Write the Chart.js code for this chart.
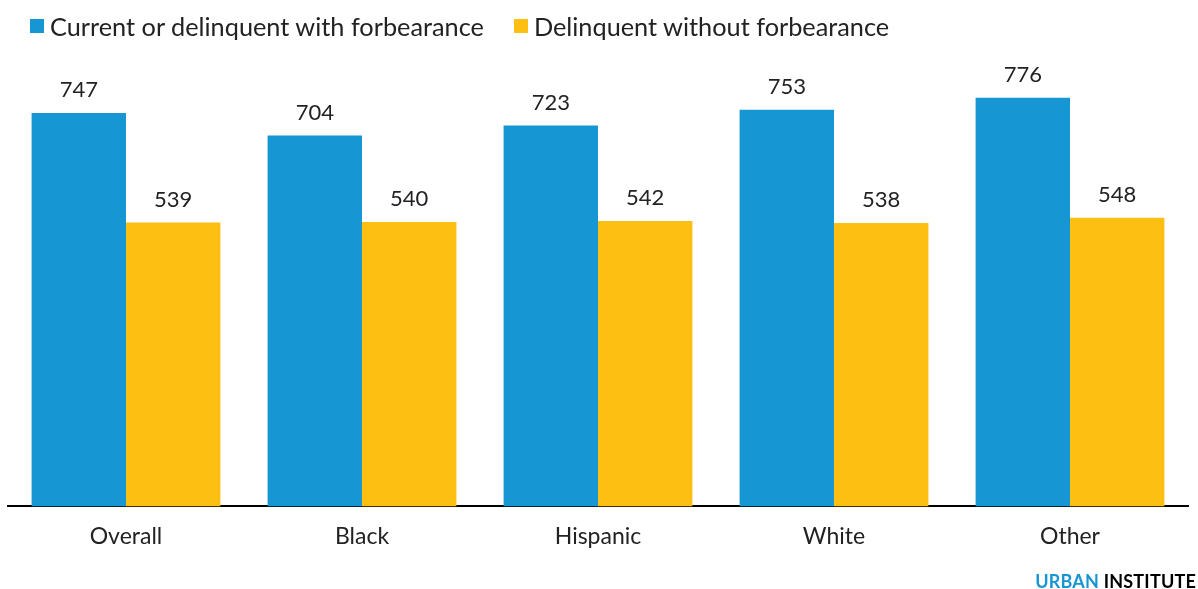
<!DOCTYPE html>
<html>
<head>
<meta charset="utf-8">
<script src="https://cdn.jsdelivr.net/npm/chart.js@4/dist/chart.umd.min.js"></script>
<style>
  html, body { margin: 0; padding: 0; background: #fff; }
  body { width: 1198px; height: 589px; position: relative; overflow: hidden; font-family: Lato, "Open Sans", sans-serif; }
  #wrap { position: absolute; left: 0; top: 0; width: 1198px; height: 589px; }
  .legend { position: absolute; top: 11px; left: 30px; display: flex; font-size: 25.3px; color: #222; }
  .legend .item { display: flex; align-items: center; margin-right: 30px; }
  .legend .sw { width: 14px; height: 14px; margin-right: 6px; }
  .brand { position: absolute; right: 2px; top: 570px; font-size: 18px; font-weight: 700; letter-spacing: 0.2px; color: #000; }
  .brand span { color: #1696d2; }
</style>
</head>
<body>
<div id="wrap"><canvas id="chart"></canvas></div>
<div class="legend">
  <div class="item"><div class="sw" style="background:#1696d2"></div>Current or delinquent with forbearance</div>
  <div class="item"><div class="sw" style="background:#fdbf11"></div>Delinquent without forbearance</div>
</div>
<div class="brand"><span>URBAN</span> INSTITUTE</div>
<script>
const categories = ['Overall', 'Black', 'Hispanic', 'White', 'Other'];
const withForbearance = [747, 704, 723, 753, 776];
const withoutForbearance = [539, 540, 542, 538, 548];

// value labels drawn above each bar
const barLabels = {
  id: 'barLabels',
  afterDatasetsDraw(chart) {
    const ctx = chart.ctx;
    ctx.save();
    ctx.font = '22px Lato';
    ctx.fillStyle = '#222';
    ctx.textAlign = 'center';
    ctx.textBaseline = 'bottom';
    chart.data.datasets.forEach((ds, i) => {
      chart.getDatasetMeta(i).data.forEach((bar, j) => {
        ctx.fillText(ds.data[j], bar.x, bar.y - 12);
      });
    });
    ctx.restore();
  }
};

new Chart(document.getElementById('chart'), {
  type: 'bar',
  data: {
    labels: categories,
    datasets: [
      { label: 'Current or delinquent with forbearance', data: withForbearance, backgroundColor: '#1696d2' },
      { label: 'Delinquent without forbearance', data: withoutForbearance, backgroundColor: '#fdbf11' }
    ]
  },
  options: {
    responsive: true,
    maintainAspectRatio: false,
    animation: false,
    categoryPercentage: 0.8,
    barPercentage: 1,
    layout: { padding: { left: 8, right: 10, top: 85, bottom: 23 } },
    plugins: { legend: { display: false }, tooltip: { enabled: false } },
    scales: {
      y: { display: false, min: 0, max: 800 },
      x: {
        grid: { display: false, drawTicks: false },
        border: { display: true, color: '#000', width: 2 },
        ticks: { color: '#222', font: { family: 'Lato', size: 23 }, padding: 16 }
      }
    }
  },
  plugins: [barLabels]
});
</script>
</body>
</html>
